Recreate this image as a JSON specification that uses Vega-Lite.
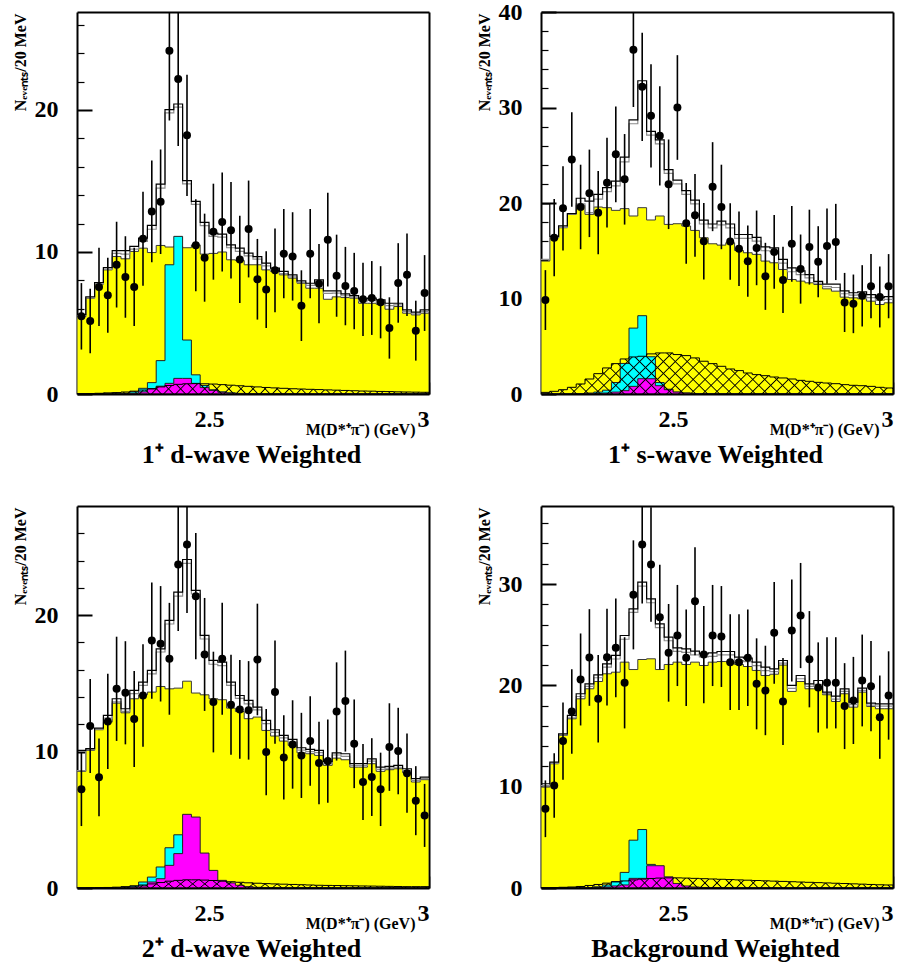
{
"$schema": "https://vega.github.io/schema/vega-lite/v6.json",
"background": "white",
"padding": {"left": 12, "top": 0, "right": 4, "bottom": 4},
"bounds": "flush",
"spacing": 112,
"columns": 2,
"config": {
  "view": {"stroke": null},
  "axis": {"labelFont": "Liberation Serif", "labelFontWeight": "bold", "labelFontSize": 24, "labelColor": "#000", "titleFont": "Liberation Serif", "titleFontWeight": "bold", "titleColor": "#000", "domainColor": "#000", "tickColor": "#000", "grid": false, "zindex": 1, "domainWidth": 2}
},
"datasets": {
"h1": [
{"m":2.20,"bkg":5.45,"cy":0,"mg":0,"ht":0.02,"tot":5.6,"gr":5.5},
{"m":2.22,"bkg":6.75,"cy":0,"mg":0,"ht":0.03,"tot":6.85,"gr":6.78},
{"m":2.24,"bkg":7.73,"cy":0,"mg":0,"ht":0.05,"tot":7.85,"gr":7.76},
{"m":2.26,"bkg":8.74,"cy":0,"mg":0,"ht":0.08,"tot":8.9,"gr":8.78},
{"m":2.28,"bkg":9.68,"cy":0.02,"mg":0,"ht":0.1,"tot":10.1,"gr":9.9},
{"m":2.30,"bkg":9.52,"cy":0.05,"mg":0.02,"ht":0.14,"tot":10.1,"gr":9.85},
{"m":2.32,"bkg":10.04,"cy":0.15,"mg":0.05,"ht":0.2,"tot":10.4,"gr":10.2},
{"m":2.34,"bkg":10.27,"cy":0.4,"mg":0.15,"ht":0.28,"tot":10.97,"gr":10.75},
{"m":2.36,"bkg":9.96,"cy":0.8,"mg":0.35,"ht":0.38,"tot":11.87,"gr":11.6},
{"m":2.38,"bkg":10.46,"cy":2.35,"mg":0.55,"ht":0.5,"tot":14.78,"gr":14.5},
{"m":2.40,"bkg":10.35,"cy":9.1,"mg":0.75,"ht":0.6,"tot":20.02,"gr":19.8},
{"m":2.42,"bkg":10.4,"cy":11.1,"mg":1.1,"ht":0.68,"tot":20.42,"gr":20.2},
{"m":2.44,"bkg":10.3,"cy":3.8,"mg":1.1,"ht":0.72,"tot":15.02,"gr":14.8},
{"m":2.46,"bkg":10.5,"cy":1.35,"mg":0.75,"ht":0.73,"tot":13.56,"gr":13.35},
{"m":2.48,"bkg":9.85,"cy":0.6,"mg":0.45,"ht":0.72,"tot":12.08,"gr":11.85},
{"m":2.50,"bkg":9.9,"cy":0.3,"mg":0.25,"ht":0.7,"tot":11.33,"gr":11.1},
{"m":2.52,"bkg":10.0,"cy":0.15,"mg":0.12,"ht":0.66,"tot":11.26,"gr":11.05},
{"m":2.54,"bkg":9.45,"cy":0.08,"mg":0.06,"ht":0.62,"tot":10.5,"gr":10.3},
{"m":2.56,"bkg":9.4,"cy":0.04,"mg":0.03,"ht":0.58,"tot":10.27,"gr":10.05},
{"m":2.58,"bkg":9.1,"cy":0.02,"mg":0.02,"ht":0.54,"tot":9.92,"gr":9.72},
{"m":2.60,"bkg":9.1,"cy":0,"mg":0,"ht":0.5,"tot":9.68,"gr":9.5},
{"m":2.62,"bkg":8.74,"cy":0,"mg":0,"ht":0.46,"tot":9.21,"gr":9.02},
{"m":2.64,"bkg":8.63,"cy":0,"mg":0,"ht":0.43,"tot":8.86,"gr":8.7},
{"m":2.66,"bkg":8.39,"cy":0,"mg":0,"ht":0.4,"tot":8.63,"gr":8.48},
{"m":2.68,"bkg":8.16,"cy":0,"mg":0,"ht":0.37,"tot":8.39,"gr":8.25},
{"m":2.70,"bkg":7.8,"cy":0,"mg":0,"ht":0.35,"tot":7.97,"gr":7.85},
{"m":2.72,"bkg":7.45,"cy":0,"mg":0,"ht":0.33,"tot":7.8,"gr":7.65},
{"m":2.74,"bkg":7.45,"cy":0,"mg":0,"ht":0.31,"tot":8.04,"gr":7.9},
{"m":2.76,"bkg":6.67,"cy":0,"mg":0,"ht":0.29,"tot":7.26,"gr":7.08},
{"m":2.78,"bkg":6.84,"cy":0,"mg":0,"ht":0.27,"tot":7.26,"gr":7.1},
{"m":2.80,"bkg":6.79,"cy":0,"mg":0,"ht":0.25,"tot":7.05,"gr":6.92},
{"m":2.82,"bkg":6.75,"cy":0,"mg":0,"ht":0.23,"tot":6.93,"gr":6.82},
{"m":2.84,"bkg":6.39,"cy":0,"mg":0,"ht":0.21,"tot":6.7,"gr":6.55},
{"m":2.86,"bkg":6.39,"cy":0,"mg":0,"ht":0.2,"tot":6.75,"gr":6.6},
{"m":2.88,"bkg":6.32,"cy":0,"mg":0,"ht":0.18,"tot":6.63,"gr":6.48},
{"m":2.90,"bkg":5.97,"cy":0,"mg":0,"ht":0.17,"tot":6.39,"gr":6.22},
{"m":2.92,"bkg":6.16,"cy":0,"mg":0,"ht":0.15,"tot":6.39,"gr":6.28},
{"m":2.94,"bkg":5.69,"cy":0,"mg":0,"ht":0.14,"tot":5.92,"gr":5.8},
{"m":2.96,"bkg":5.57,"cy":0,"mg":0,"ht":0.13,"tot":5.76,"gr":5.65},
{"m":2.98,"bkg":5.69,"cy":0,"mg":0,"ht":0.12,"tot":5.92,"gr":5.8},
{"m":3.00,"bkg":5.69,"cy":0,"mg":0,"ht":0.12,"tot":5.92,"gr":5.8}
],
"p1": [
{"m":2.21,"n":5.47,"lo":3.13,"hi":7.81},{"m":2.23,"n":5.14,"lo":2.87,"hi":7.41},{"m":2.25,"n":7.54,"lo":4.79,"hi":10.29},{"m":2.27,"n":6.95,"lo":4.31,"hi":9.59},
{"m":2.29,"n":9.11,"lo":6.09,"hi":12.13},{"m":2.31,"n":8.24,"lo":5.37,"hi":11.11},{"m":2.33,"n":7.54,"lo":4.79,"hi":10.29},{"m":2.35,"n":10.94,"lo":7.63,"hi":14.25},
{"m":2.37,"n":12.86,"lo":9.27,"hi":16.45},{"m":2.39,"n":13.54,"lo":9.86,"hi":17.22},{"m":2.41,"n":24.18,"lo":19.26,"hi":29.1},{"m":2.43,"n":22.18,"lo":17.47,"hi":26.89},
{"m":2.45,"n":18.22,"lo":13.95,"hi":22.49},{"m":2.47,"n":10.47,"lo":7.23,"hi":13.71},{"m":2.49,"n":9.6,"lo":6.5,"hi":12.7},{"m":2.51,"n":11.43,"lo":8.05,"hi":14.81},
{"m":2.53,"n":12.11,"lo":8.63,"hi":15.59},{"m":2.55,"n":11.53,"lo":8.13,"hi":14.93},{"m":2.57,"n":9.48,"lo":6.4,"hi":12.56},{"m":2.59,"n":11.62,"lo":8.21,"hi":15.03},
{"m":2.61,"n":8.08,"lo":5.24,"hi":10.92},{"m":2.63,"n":7.35,"lo":4.64,"hi":10.06},{"m":2.65,"n":8.71,"lo":5.76,"hi":11.66},{"m":2.67,"n":9.88,"lo":6.74,"hi":13.02},
{"m":2.69,"n":9.69,"lo":6.58,"hi":12.8},{"m":2.71,"n":6.22,"lo":3.73,"hi":8.71},{"m":2.73,"n":9.88,"lo":6.74,"hi":13.02},{"m":2.75,"n":7.77,"lo":4.98,"hi":10.56},
{"m":2.77,"n":10.87,"lo":7.57,"hi":14.17},{"m":2.79,"n":8.33,"lo":5.44,"hi":11.22},{"m":2.81,"n":7.6,"lo":4.84,"hi":10.36},{"m":2.83,"n":7.25,"lo":4.56,"hi":9.94},
{"m":2.85,"n":6.67,"lo":4.09,"hi":9.25},{"m":2.87,"n":6.76,"lo":4.16,"hi":9.36},{"m":2.89,"n":6.46,"lo":3.92,"hi":9.0},{"m":2.91,"n":4.65,"lo":2.49,"hi":6.81},
{"m":2.93,"n":7.82,"lo":5.02,"hi":10.62},{"m":2.95,"n":8.4,"lo":5.5,"hi":11.3},{"m":2.97,"n":4.46,"lo":2.35,"hi":6.57},{"m":2.99,"n":7.11,"lo":4.44,"hi":9.78}
],
"h2": [
{"m":2.20,"bkg":13.92,"cy":0,"mg":0,"ht":0.17,"tot":19.9,"gr":14.1},
{"m":2.22,"bkg":16.36,"cy":0,"mg":0,"ht":0.28,"tot":16.5,"gr":16.4},
{"m":2.24,"bkg":17.41,"cy":0,"mg":0,"ht":0.45,"tot":17.6,"gr":17.45},
{"m":2.26,"bkg":18.81,"cy":0.02,"mg":0,"ht":0.7,"tot":18.9,"gr":18.85},
{"m":2.28,"bkg":19.76,"cy":0.05,"mg":0,"ht":1.05,"tot":20.5,"gr":19.9},
{"m":2.30,"bkg":18.81,"cy":0.1,"mg":0.02,"ht":1.57,"tot":20.2,"gr":19.0},
{"m":2.32,"bkg":19.58,"cy":0.2,"mg":0.05,"ht":2.13,"tot":20.9,"gr":20.4},
{"m":2.34,"bkg":19.51,"cy":0.4,"mg":0.1,"ht":2.73,"tot":21.6,"gr":21.2},
{"m":2.36,"bkg":19.23,"cy":1.2,"mg":0.2,"ht":3.18,"tot":22.3,"gr":21.8},
{"m":2.38,"bkg":19.41,"cy":3.2,"mg":0.35,"ht":3.67,"tot":24.8,"gr":24.3},
{"m":2.40,"bkg":18.64,"cy":6.9,"mg":0.8,"ht":3.88,"tot":28.7,"gr":28.3},
{"m":2.42,"bkg":19.51,"cy":8.2,"mg":1.6,"ht":3.95,"tot":32.8,"gr":32.4},
{"m":2.44,"bkg":18.22,"cy":3.9,"mg":1.6,"ht":4.2,"tot":27.5,"gr":27.1},
{"m":2.46,"bkg":18.64,"cy":1.2,"mg":0.87,"ht":4.3,"tot":26.6,"gr":26.2},
{"m":2.48,"bkg":17.76,"cy":0.5,"mg":0.45,"ht":4.3,"tot":23.5,"gr":23.1},
{"m":2.50,"bkg":17.83,"cy":0.2,"mg":0.2,"ht":4.13,"tot":22.4,"gr":22.0},
{"m":2.52,"bkg":17.59,"cy":0.1,"mg":0.1,"ht":4.02,"tot":21.3,"gr":20.9},
{"m":2.54,"bkg":17.13,"cy":0.05,"mg":0.05,"ht":3.78,"tot":20.3,"gr":19.9},
{"m":2.56,"bkg":16.36,"cy":0.02,"mg":0.02,"ht":3.43,"tot":18.2,"gr":17.8},
{"m":2.58,"bkg":15.73,"cy":0,"mg":0,"ht":3.18,"tot":17.8,"gr":17.4},
{"m":2.60,"bkg":15.59,"cy":0,"mg":0,"ht":2.9,"tot":18.1,"gr":17.7},
{"m":2.62,"bkg":15.84,"cy":0,"mg":0,"ht":2.62,"tot":17.8,"gr":17.4},
{"m":2.64,"bkg":15.03,"cy":0,"mg":0,"ht":2.45,"tot":16.7,"gr":16.3},
{"m":2.66,"bkg":14.79,"cy":0,"mg":0,"ht":2.2,"tot":16.7,"gr":16.3},
{"m":2.68,"bkg":14.62,"cy":0,"mg":0,"ht":2.03,"tot":16.4,"gr":16.0},
{"m":2.70,"bkg":13.92,"cy":0,"mg":0,"ht":1.92,"tot":15.4,"gr":15.0},
{"m":2.72,"bkg":13.74,"cy":0,"mg":0,"ht":1.78,"tot":15.3,"gr":14.9},
{"m":2.74,"bkg":13.04,"cy":0,"mg":0,"ht":1.68,"tot":14.1,"gr":13.7},
{"m":2.76,"bkg":11.99,"cy":0,"mg":0,"ht":1.57,"tot":13.2,"gr":12.8},
{"m":2.78,"bkg":11.82,"cy":0,"mg":0,"ht":1.43,"tot":12.9,"gr":12.5},
{"m":2.80,"bkg":11.64,"cy":0,"mg":0,"ht":1.33,"tot":12.5,"gr":12.15},
{"m":2.82,"bkg":11.47,"cy":0,"mg":0,"ht":1.22,"tot":11.8,"gr":11.6},
{"m":2.84,"bkg":11.01,"cy":0,"mg":0,"ht":1.15,"tot":11.5,"gr":11.25},
{"m":2.86,"bkg":10.77,"cy":0,"mg":0,"ht":1.08,"tot":11.5,"gr":11.15},
{"m":2.88,"bkg":10.14,"cy":0,"mg":0,"ht":0.98,"tot":10.8,"gr":10.5},
{"m":2.90,"bkg":10.07,"cy":0,"mg":0,"ht":0.91,"tot":10.6,"gr":10.35},
{"m":2.92,"bkg":9.97,"cy":0,"mg":0,"ht":0.87,"tot":10.7,"gr":10.4},
{"m":2.94,"bkg":9.72,"cy":0,"mg":0,"ht":0.8,"tot":10.4,"gr":10.1},
{"m":2.96,"bkg":9.37,"cy":0,"mg":0,"ht":0.7,"tot":10.1,"gr":9.8},
{"m":2.98,"bkg":9.55,"cy":0,"mg":0,"ht":0.63,"tot":10.2,"gr":9.9},
{"m":3.00,"bkg":9.55,"cy":0,"mg":0,"ht":0.63,"tot":10.2,"gr":9.9}
],
"p2": [
{"m":2.21,"n":9.83,"lo":6.7,"hi":12.97},{"m":2.23,"n":16.36,"lo":12.32,"hi":20.41},{"m":2.25,"n":19.44,"lo":15.03,"hi":23.85},{"m":2.27,"n":24.55,"lo":19.6,"hi":29.51},
{"m":2.29,"n":19.58,"lo":15.16,"hi":24.01},{"m":2.31,"n":21.01,"lo":16.43,"hi":25.59},{"m":2.33,"n":18.99,"lo":14.63,"hi":23.35},{"m":2.35,"n":22.13,"lo":17.43,"hi":26.83},
{"m":2.37,"n":25.1,"lo":20.09,"hi":30.11},{"m":2.39,"n":22.48,"lo":17.74,"hi":27.22},{"m":2.41,"n":36.05,"lo":30.05,"hi":42.05},{"m":2.43,"n":32.17,"lo":26.5,"hi":37.84},
{"m":2.45,"n":29.13,"lo":23.73,"hi":34.53},{"m":2.47,"n":27.03,"lo":21.83,"hi":32.23},{"m":2.49,"n":21.96,"lo":17.27,"hi":26.65},{"m":2.51,"n":30.0,"lo":24.52,"hi":35.48},
{"m":2.53,"n":17.87,"lo":13.64,"hi":22.1},{"m":2.55,"n":18.71,"lo":14.38,"hi":23.04},{"m":2.57,"n":16.0,"lo":12.0,"hi":20.0},{"m":2.59,"n":21.71,"lo":17.05,"hi":26.37},
{"m":2.61,"n":19.58,"lo":15.16,"hi":24.01},{"m":2.63,"n":15.97,"lo":11.97,"hi":19.97},{"m":2.65,"n":15.22,"lo":11.32,"hi":19.12},{"m":2.67,"n":13.91,"lo":10.18,"hi":17.64},
{"m":2.69,"n":15.3,"lo":11.39,"hi":19.21},{"m":2.71,"n":12.32,"lo":8.81,"hi":15.83},{"m":2.73,"n":14.88,"lo":11.02,"hi":18.74},{"m":2.75,"n":11.95,"lo":8.49,"hi":15.41},
{"m":2.77,"n":15.72,"lo":11.76,"hi":19.69},{"m":2.79,"n":13.08,"lo":9.46,"hi":16.7},{"m":2.81,"n":15.38,"lo":11.46,"hi":19.3},{"m":2.83,"n":13.85,"lo":10.13,"hi":17.57},
{"m":2.85,"n":15.49,"lo":11.55,"hi":19.43},{"m":2.87,"n":15.92,"lo":11.93,"hi":19.91},{"m":2.89,"n":9.58,"lo":6.49,"hi":12.68},{"m":2.91,"n":9.44,"lo":6.37,"hi":12.51},
{"m":2.93,"n":10.28,"lo":7.07,"hi":13.49},{"m":2.95,"n":11.29,"lo":7.93,"hi":14.65},{"m":2.97,"n":10.16,"lo":6.97,"hi":13.35},{"m":2.99,"n":11.29,"lo":7.93,"hi":14.65}
],
"h3": [
{"m":2.20,"bkg":8.55,"cy":0,"mg":0,"ht":0.01,"tot":10.09,"gr":8.6},
{"m":2.22,"bkg":10.09,"cy":0,"mg":0,"ht":0.02,"tot":10.21,"gr":10.15},
{"m":2.24,"bkg":11.6,"cy":0,"mg":0,"ht":0.03,"tot":11.72,"gr":11.65},
{"m":2.26,"bkg":12.16,"cy":0,"mg":0,"ht":0.04,"tot":12.65,"gr":12.45},
{"m":2.28,"bkg":13.55,"cy":0.02,"mg":0.01,"ht":0.06,"tot":13.87,"gr":13.65},
{"m":2.30,"bkg":12.84,"cy":0.05,"mg":0.03,"ht":0.1,"tot":13.14,"gr":12.95},
{"m":2.32,"bkg":13.87,"cy":0.15,"mg":0.07,"ht":0.15,"tot":14.48,"gr":14.25},
{"m":2.34,"bkg":14.16,"cy":0.44,"mg":0.15,"ht":0.22,"tot":15.09,"gr":14.85},
{"m":2.36,"bkg":14.36,"cy":0.8,"mg":0.44,"ht":0.3,"tot":15.95,"gr":15.7},
{"m":2.38,"bkg":14.77,"cy":1.54,"mg":0.68,"ht":0.4,"tot":17.53,"gr":17.3},
{"m":2.40,"bkg":14.6,"cy":2.95,"mg":1.66,"ht":0.5,"tot":19.61,"gr":19.35},
{"m":2.42,"bkg":14.65,"cy":3.9,"mg":2.52,"ht":0.56,"tot":21.68,"gr":21.4},
{"m":2.44,"bkg":15.16,"cy":3.0,"mg":5.4,"ht":0.6,"tot":24.08,"gr":23.8},
{"m":2.46,"bkg":14.29,"cy":1.2,"mg":5.2,"ht":0.6,"tot":21.81,"gr":21.55},
{"m":2.48,"bkg":14.16,"cy":0.5,"mg":2.56,"ht":0.58,"tot":18.51,"gr":18.25},
{"m":2.50,"bkg":13.87,"cy":0.2,"mg":1.29,"ht":0.55,"tot":16.68,"gr":16.4},
{"m":2.52,"bkg":13.8,"cy":0.1,"mg":0.56,"ht":0.5,"tot":16.56,"gr":16.3},
{"m":2.54,"bkg":13.19,"cy":0.05,"mg":0.37,"ht":0.46,"tot":15.09,"gr":14.85},
{"m":2.56,"bkg":12.94,"cy":0.02,"mg":0.2,"ht":0.42,"tot":14.11,"gr":13.9},
{"m":2.58,"bkg":12.41,"cy":0,"mg":0.1,"ht":0.38,"tot":13.75,"gr":13.5},
{"m":2.60,"bkg":12.53,"cy":0,"mg":0.05,"ht":0.35,"tot":13.26,"gr":13.05},
{"m":2.62,"bkg":11.55,"cy":0,"mg":0,"ht":0.32,"tot":12.28,"gr":12.05},
{"m":2.64,"bkg":11.14,"cy":0,"mg":0,"ht":0.3,"tot":11.6,"gr":11.4},
{"m":2.66,"bkg":10.77,"cy":0,"mg":0,"ht":0.28,"tot":11.18,"gr":11.0},
{"m":2.68,"bkg":10.45,"cy":0,"mg":0,"ht":0.26,"tot":10.89,"gr":10.7},
{"m":2.70,"bkg":9.91,"cy":0,"mg":0,"ht":0.24,"tot":10.28,"gr":10.1},
{"m":2.72,"bkg":9.84,"cy":0,"mg":0,"ht":0.22,"tot":10.16,"gr":10.0},
{"m":2.74,"bkg":9.72,"cy":0,"mg":0,"ht":0.2,"tot":10.09,"gr":9.92},
{"m":2.76,"bkg":8.99,"cy":0,"mg":0,"ht":0.19,"tot":9.28,"gr":9.12},
{"m":2.78,"bkg":9.52,"cy":0,"mg":0,"ht":0.18,"tot":9.91,"gr":9.75},
{"m":2.80,"bkg":9.4,"cy":0,"mg":0,"ht":0.17,"tot":9.84,"gr":9.65},
{"m":2.82,"bkg":8.86,"cy":0,"mg":0,"ht":0.16,"tot":9.11,"gr":8.98},
{"m":2.84,"bkg":8.86,"cy":0,"mg":0,"ht":0.15,"tot":9.11,"gr":8.98},
{"m":2.86,"bkg":9.11,"cy":0,"mg":0,"ht":0.14,"tot":9.47,"gr":9.3},
{"m":2.88,"bkg":8.55,"cy":0,"mg":0,"ht":0.13,"tot":8.86,"gr":8.7},
{"m":2.90,"bkg":8.67,"cy":0,"mg":0,"ht":0.12,"tot":8.91,"gr":8.78},
{"m":2.92,"bkg":8.74,"cy":0,"mg":0,"ht":0.11,"tot":8.99,"gr":8.85},
{"m":2.94,"bkg":8.45,"cy":0,"mg":0,"ht":0.1,"tot":8.74,"gr":8.6},
{"m":2.96,"bkg":7.77,"cy":0,"mg":0,"ht":0.1,"tot":8.01,"gr":7.88},
{"m":2.98,"bkg":7.94,"cy":0,"mg":0,"ht":0.1,"tot":8.13,"gr":8.02},
{"m":3.00,"bkg":7.94,"cy":0,"mg":0,"ht":0.1,"tot":8.13,"gr":8.02}
],
"p3": [
{"m":2.21,"n":7.23,"lo":4.54,"hi":9.92},{"m":2.23,"n":11.87,"lo":8.43,"hi":15.32},{"m":2.25,"n":8.11,"lo":5.26,"hi":10.96},{"m":2.27,"n":12.21,"lo":8.72,"hi":15.7},
{"m":2.29,"n":14.6,"lo":10.78,"hi":18.42},{"m":2.31,"n":14.31,"lo":10.53,"hi":18.09},{"m":2.33,"n":12.38,"lo":8.86,"hi":15.9},{"m":2.35,"n":14.11,"lo":10.35,"hi":17.87},
{"m":2.37,"n":18.14,"lo":13.88,"hi":22.4},{"m":2.39,"n":17.9,"lo":13.67,"hi":22.13},{"m":2.41,"n":16.8,"lo":12.7,"hi":20.9},{"m":2.43,"n":23.71,"lo":18.84,"hi":28.58},
{"m":2.45,"n":25.18,"lo":20.16,"hi":30.2},{"m":2.47,"n":21.39,"lo":16.77,"hi":26.02},{"m":2.49,"n":17.12,"lo":12.98,"hi":21.26},{"m":2.51,"n":13.63,"lo":9.94,"hi":17.32},
{"m":2.53,"n":16.8,"lo":12.7,"hi":20.9},{"m":2.55,"n":13.43,"lo":9.77,"hi":17.1},{"m":2.57,"n":13.09,"lo":9.47,"hi":16.71},{"m":2.59,"n":13.02,"lo":9.41,"hi":16.63},
{"m":2.61,"n":16.75,"lo":12.66,"hi":20.84},{"m":2.63,"n":9.96,"lo":6.8,"hi":13.12},{"m":2.65,"n":14.36,"lo":10.57,"hi":18.15},{"m":2.67,"n":9.57,"lo":6.48,"hi":12.66},
{"m":2.69,"n":10.52,"lo":7.28,"hi":13.76},{"m":2.71,"n":9.72,"lo":6.6,"hi":12.84},{"m":2.73,"n":10.77,"lo":7.49,"hi":14.05},{"m":2.75,"n":9.16,"lo":6.13,"hi":12.19},
{"m":2.77,"n":9.3,"lo":6.25,"hi":12.35},{"m":2.79,"n":12.94,"lo":9.34,"hi":16.54},{"m":2.81,"n":13.7,"lo":10.0,"hi":17.4},{"m":2.83,"n":10.57,"lo":7.32,"hi":13.82},
{"m":2.85,"n":7.77,"lo":4.98,"hi":10.56},{"m":2.87,"n":8.13,"lo":5.28,"hi":10.98},{"m":2.89,"n":7.23,"lo":4.54,"hi":9.92},{"m":2.91,"n":10.33,"lo":7.12,"hi":13.54},
{"m":2.93,"n":10.04,"lo":6.87,"hi":13.21},{"m":2.95,"n":8.42,"lo":5.52,"hi":11.32},{"m":2.97,"n":6.4,"lo":3.87,"hi":8.93},{"m":2.99,"n":5.32,"lo":3.01,"hi":7.63}
],
"h4": [
{"m":2.20,"bkg":9.96,"cy":0,"mg":0,"ht":0.02,"tot":10.29,"gr":10.1},
{"m":2.22,"bkg":12.26,"cy":0,"mg":0,"ht":0.04,"tot":12.43,"gr":12.3},
{"m":2.24,"bkg":15.06,"cy":0,"mg":0,"ht":0.07,"tot":15.22,"gr":15.1},
{"m":2.26,"bkg":16.7,"cy":0,"mg":0,"ht":0.1,"tot":17.03,"gr":16.85},
{"m":2.28,"bkg":18.67,"cy":0.02,"mg":0,"ht":0.15,"tot":19.17,"gr":18.9},
{"m":2.30,"bkg":19.66,"cy":0.05,"mg":0.02,"ht":0.25,"tot":20.15,"gr":19.9},
{"m":2.32,"bkg":20.38,"cy":0.12,"mg":0.05,"ht":0.35,"tot":21.04,"gr":20.75},
{"m":2.34,"bkg":21.14,"cy":0.3,"mg":0.1,"ht":0.48,"tot":22.12,"gr":21.8},
{"m":2.36,"bkg":21.3,"cy":0.64,"mg":0.2,"ht":0.6,"tot":22.95,"gr":22.6},
{"m":2.38,"bkg":22.29,"cy":1.54,"mg":0.3,"ht":0.7,"tot":24.92,"gr":24.55},
{"m":2.40,"bkg":21.56,"cy":4.72,"mg":0.95,"ht":0.8,"tot":27.55,"gr":27.2},
{"m":2.42,"bkg":22.55,"cy":5.77,"mg":0.95,"ht":0.88,"tot":30.18,"gr":29.8},
{"m":2.44,"bkg":22.62,"cy":2.33,"mg":2.2,"ht":0.94,"tot":28.53,"gr":28.15},
{"m":2.46,"bkg":21.56,"cy":1.1,"mg":2.2,"ht":0.98,"tot":26.07,"gr":25.7},
{"m":2.48,"bkg":22.06,"cy":0.5,"mg":1.1,"ht":1.0,"tot":24.75,"gr":24.4},
{"m":2.50,"bkg":22.29,"cy":0.2,"mg":0.45,"ht":1.0,"tot":23.7,"gr":23.35},
{"m":2.52,"bkg":22.06,"cy":0.1,"mg":0.2,"ht":0.98,"tot":23.6,"gr":23.25},
{"m":2.54,"bkg":22.29,"cy":0.05,"mg":0.1,"ht":0.95,"tot":23.37,"gr":23.0},
{"m":2.56,"bkg":21.96,"cy":0.02,"mg":0.05,"ht":0.92,"tot":23.11,"gr":22.8},
{"m":2.58,"bkg":22.29,"cy":0,"mg":0.02,"ht":0.89,"tot":23.2,"gr":22.85},
{"m":2.60,"bkg":22.35,"cy":0,"mg":0,"ht":0.86,"tot":23.34,"gr":23.0},
{"m":2.62,"bkg":22.35,"cy":0,"mg":0,"ht":0.83,"tot":23.34,"gr":23.0},
{"m":2.64,"bkg":22.06,"cy":0,"mg":0,"ht":0.8,"tot":22.78,"gr":22.45},
{"m":2.66,"bkg":21.86,"cy":0,"mg":0,"ht":0.77,"tot":22.68,"gr":22.35},
{"m":2.68,"bkg":21.47,"cy":0,"mg":0,"ht":0.74,"tot":22.29,"gr":21.95},
{"m":2.70,"bkg":20.97,"cy":0,"mg":0,"ht":0.71,"tot":21.8,"gr":21.45},
{"m":2.72,"bkg":21.1,"cy":0,"mg":0,"ht":0.68,"tot":21.63,"gr":21.35},
{"m":2.74,"bkg":22.0,"cy":0,"mg":0,"ht":0.65,"tot":22.45,"gr":22.2},
{"m":2.76,"bkg":19.4,"cy":0,"mg":0,"ht":0.62,"tot":19.99,"gr":19.7},
{"m":2.78,"bkg":20.38,"cy":0,"mg":0,"ht":0.59,"tot":20.97,"gr":20.65},
{"m":2.80,"bkg":19.66,"cy":0,"mg":0,"ht":0.56,"tot":20.15,"gr":19.9},
{"m":2.82,"bkg":19.66,"cy":0,"mg":0,"ht":0.53,"tot":20.48,"gr":20.1},
{"m":2.84,"bkg":19.07,"cy":0,"mg":0,"ht":0.5,"tot":19.33,"gr":19.2},
{"m":2.86,"bkg":18.41,"cy":0,"mg":0,"ht":0.47,"tot":18.93,"gr":18.65},
{"m":2.88,"bkg":19.17,"cy":0,"mg":0,"ht":0.44,"tot":19.66,"gr":19.4},
{"m":2.90,"bkg":17.85,"cy":0,"mg":0,"ht":0.41,"tot":18.34,"gr":18.1},
{"m":2.92,"bkg":19.33,"cy":0,"mg":0,"ht":0.38,"tot":19.72,"gr":19.5},
{"m":2.94,"bkg":17.92,"cy":0,"mg":0,"ht":0.35,"tot":18.24,"gr":18.05},
{"m":2.96,"bkg":17.69,"cy":0,"mg":0,"ht":0.32,"tot":18.18,"gr":17.95},
{"m":2.98,"bkg":17.69,"cy":0,"mg":0,"ht":0.3,"tot":18.18,"gr":17.95},
{"m":3.00,"bkg":17.69,"cy":0,"mg":0,"ht":0.3,"tot":18.18,"gr":17.95}
],
"p4": [
{"m":2.21,"n":7.82,"lo":5.02,"hi":10.62},{"m":2.23,"n":10.12,"lo":6.94,"hi":13.3},{"m":2.25,"n":14.5,"lo":10.69,"hi":18.31},{"m":2.27,"n":17.42,"lo":13.25,"hi":21.59},
{"m":2.29,"n":20.58,"lo":16.04,"hi":25.12},{"m":2.31,"n":22.75,"lo":17.98,"hi":27.52},{"m":2.33,"n":18.67,"lo":14.35,"hi":22.99},{"m":2.35,"n":22.78,"lo":18.01,"hi":27.55},
{"m":2.37,"n":23.7,"lo":18.83,"hi":28.57},{"m":2.39,"n":20.25,"lo":15.75,"hi":24.75},{"m":2.41,"n":28.93,"lo":23.55,"hi":34.31},{"m":2.43,"n":33.89,"lo":28.07,"hi":39.71},
{"m":2.45,"n":31.92,"lo":26.27,"hi":37.57},{"m":2.47,"n":26.73,"lo":21.56,"hi":31.9},{"m":2.49,"n":23.21,"lo":18.39,"hi":28.03},{"m":2.51,"n":24.92,"lo":19.93,"hi":29.91},
{"m":2.53,"n":22.72,"lo":17.95,"hi":27.49},{"m":2.55,"n":28.3,"lo":22.98,"hi":33.62},{"m":2.57,"n":23.04,"lo":18.24,"hi":27.84},{"m":2.59,"n":24.92,"lo":19.93,"hi":29.91},
{"m":2.61,"n":24.82,"lo":19.84,"hi":29.8},{"m":2.63,"n":22.29,"lo":17.57,"hi":27.01},{"m":2.65,"n":22.29,"lo":17.57,"hi":27.01},{"m":2.67,"n":22.72,"lo":17.95,"hi":27.49},
{"m":2.69,"n":20.15,"lo":15.66,"hi":24.64},{"m":2.71,"n":19.49,"lo":15.08,"hi":23.91},{"m":2.73,"n":25.18,"lo":20.16,"hi":30.2},{"m":2.75,"n":18.41,"lo":14.12,"hi":22.7},
{"m":2.77,"n":25.41,"lo":20.37,"hi":30.45},{"m":2.79,"n":26.89,"lo":21.7,"hi":32.08},{"m":2.81,"n":22.58,"lo":17.83,"hi":27.33},{"m":2.83,"n":19.79,"lo":15.34,"hi":24.24},
{"m":2.85,"n":20.25,"lo":15.75,"hi":24.75},{"m":2.87,"n":20.25,"lo":15.75,"hi":24.75},{"m":2.89,"n":17.95,"lo":13.71,"hi":22.19},{"m":2.91,"n":18.51,"lo":14.21,"hi":22.81},
{"m":2.93,"n":20.48,"lo":15.95,"hi":25.01},{"m":2.95,"n":19.92,"lo":15.46,"hi":24.38},{"m":2.97,"n":16.86,"lo":12.75,"hi":20.97},{"m":2.99,"n":19.0,"lo":14.64,"hi":23.36}
]
},
"concat": [
{
 "width": 352, "height": 382,
 "resolve": {"axis": {"x": "independent", "y": "independent"}},
 "layer": [
  {"data": {"name": "h1"}, "mark": {"type": "area", "interpolate": "step-after", "fill": "#ffff00", "stroke": "#3a3a3a", "strokeWidth": 1, "clip": true},
   "encoding": {
    "x": {"field": "m", "type": "quantitative", "scale": {"domain": [2.2, 3], "nice": false, "zero": false},
      "axis": {"orient": "bottom", "values": [2.5, 3], "format": "~g", "tickSize": -12, "tickWidth": 1.5, "labelPadding": 25, "domainWidth": 2,
        "title": "M(D*\u207a\u03c0\u207b) (GeV)", "titleFontSize": 16, "titleX": 338, "titleY": 40, "titleAlign": "right", "titleBaseline": "alphabetic", "titleAnchor": "end"}},
    "y": {"field": "bkg", "type": "quantitative", "scale": {"domain": [0, 26.9], "nice": false},
      "axis": {"orient": "left", "values": [0, 10, 20], "tickSize": -15, "tickWidth": 2, "labelPadding": 34, "domainWidth": 2,
        "title": "N\u2091\u1d65\u2091\u2099\u209c\u209b/20 MeV", "titleFontSize": 16, "titleAngle": 270, "titleX": -57, "titleY": 1, "titleAlign": "right", "titleBaseline": "middle"}}
   }},
  {"data": {"name": "h1"}, "mark": {"type": "area", "interpolate": "step-after", "fill": "#00ffff", "stroke": "#222", "strokeWidth": 1, "clip": true},
   "encoding": {
    "x": {"field": "m", "type": "quantitative", "scale": {"domain": [2.2, 3], "nice": false, "zero": false},
      "axis": {"orient": "bottom", "values": [2.3, 2.4, 2.6, 2.7, 2.8, 2.9], "tickSize": -6, "tickWidth": 1.2, "labels": false, "domain": false,
        "title": "1\u207a d-wave Weighted", "titleFontSize": 26, "titleX": 174, "titleY": 68, "titleAlign": "center", "titleBaseline": "alphabetic"}},
    "y": {"field": "cy", "type": "quantitative", "scale": {"domain": [0, 26.9], "nice": false},
      "axis": {"orient": "left", "values": [2, 4, 6, 8, 12, 14, 16, 18, 22, 24, 26], "tickSize": -7, "tickWidth": 1.2, "labels": false, "domain": false, "title": null}}
   }},
  {"data": {"name": "h1"}, "mark": {"type": "area", "interpolate": "step-after", "fill": "#ff00ff", "stroke": "#222", "strokeWidth": 1, "clip": true},
   "encoding": {
    "x": {"field": "m", "type": "quantitative", "scale": {"domain": [2.2, 3], "nice": false, "zero": false},
      "axis": {"orient": "top", "ticks": false, "labels": false, "domainWidth": 2, "title": null}},
    "y": {"field": "mg", "type": "quantitative", "scale": {"domain": [0, 26.9], "nice": false},
      "axis": {"orient": "right", "ticks": false, "labels": false, "domainWidth": 2, "title": null}}
   }},
  {"data": {"name": "h1"}, "mark": {"type": "area", "interpolate": "step-after", "clip": true, "stroke": null, "fill": {"gradient": "linear", "x1": 0, "y1": 0, "x2": 1.0276, "y2": 0.0292, "stops": [
{"offset":0.0298,"color":"transparent"},{"offset":0.0333,"color":"#000"},{"offset":0.0368,"color":"transparent"},{"offset":0.0632,"color":"transparent"},{"offset":0.0667,"color":"#000"},{"offset":0.0702,"color":"transparent"},{"offset":0.0965,"color":"transparent"},{"offset":0.1,"color":"#000"},{"offset":0.1035,"color":"transparent"},{"offset":0.1298,"color":"transparent"},{"offset":0.1333,"color":"#000"},{"offset":0.1368,"color":"transparent"},{"offset":0.1632,"color":"transparent"},{"offset":0.1667,"color":"#000"},{"offset":0.1702,"color":"transparent"},{"offset":0.1965,"color":"transparent"},{"offset":0.2,"color":"#000"},{"offset":0.2035,"color":"transparent"},{"offset":0.2298,"color":"transparent"},{"offset":0.2333,"color":"#000"},{"offset":0.2368,"color":"transparent"},{"offset":0.2632,"color":"transparent"},{"offset":0.2667,"color":"#000"},{"offset":0.2702,"color":"transparent"},{"offset":0.2965,"color":"transparent"},{"offset":0.3,"color":"#000"},{"offset":0.3035,"color":"transparent"},{"offset":0.3298,"color":"transparent"},{"offset":0.3333,"color":"#000"},{"offset":0.3368,"color":"transparent"},{"offset":0.3632,"color":"transparent"},{"offset":0.3667,"color":"#000"},{"offset":0.3702,"color":"transparent"},{"offset":0.3965,"color":"transparent"},{"offset":0.4,"color":"#000"},{"offset":0.4035,"color":"transparent"},{"offset":0.4298,"color":"transparent"},{"offset":0.4333,"color":"#000"},{"offset":0.4368,"color":"transparent"},{"offset":0.4632,"color":"transparent"},{"offset":0.4667,"color":"#000"},{"offset":0.4702,"color":"transparent"},{"offset":0.4965,"color":"transparent"},{"offset":0.5,"color":"#000"},{"offset":0.5035,"color":"transparent"},{"offset":0.5298,"color":"transparent"},{"offset":0.5333,"color":"#000"},{"offset":0.5368,"color":"transparent"},{"offset":0.5632,"color":"transparent"},{"offset":0.5667,"color":"#000"},{"offset":0.5702,"color":"transparent"},{"offset":0.5965,"color":"transparent"},{"offset":0.6,"color":"#000"},{"offset":0.6035,"color":"transparent"},{"offset":0.6298,"color":"transparent"},{"offset":0.6333,"color":"#000"},{"offset":0.6368,"color":"transparent"},{"offset":0.6632,"color":"transparent"},{"offset":0.6667,"color":"#000"},{"offset":0.6702,"color":"transparent"},{"offset":0.6965,"color":"transparent"},{"offset":0.7,"color":"#000"},{"offset":0.7035,"color":"transparent"},{"offset":0.7298,"color":"transparent"},{"offset":0.7333,"color":"#000"},{"offset":0.7368,"color":"transparent"},{"offset":0.7632,"color":"transparent"},{"offset":0.7667,"color":"#000"},{"offset":0.7702,"color":"transparent"},{"offset":0.7965,"color":"transparent"},{"offset":0.8,"color":"#000"},{"offset":0.8035,"color":"transparent"},{"offset":0.8298,"color":"transparent"},{"offset":0.8333,"color":"#000"},{"offset":0.8368,"color":"transparent"},{"offset":0.8632,"color":"transparent"},{"offset":0.8667,"color":"#000"},{"offset":0.8702,"color":"transparent"},{"offset":0.8965,"color":"transparent"},{"offset":0.9,"color":"#000"},{"offset":0.9035,"color":"transparent"},{"offset":0.9298,"color":"transparent"},{"offset":0.9333,"color":"#000"},{"offset":0.9368,"color":"transparent"},{"offset":0.9632,"color":"transparent"},{"offset":0.9667,"color":"#000"},{"offset":0.9702,"color":"transparent"}]}},
   "encoding": {"x": {"field": "m", "type": "quantitative", "scale": {"domain": [2.2, 3], "nice": false, "zero": false}, "axis": null},
    "y": {"field": "ht", "type": "quantitative", "scale": {"domain": [0, 26.9], "nice": false}, "axis": null}}},
  {"data": {"name": "h1"}, "mark": {"type": "area", "interpolate": "step-after", "clip": true, "stroke": "#000", "strokeWidth": 1, "fill": {"gradient": "linear", "x1": 0, "y1": 1, "x2": 1.0276, "y2": 0.9708, "stops": [
{"offset":0.0298,"color":"transparent"},{"offset":0.0333,"color":"#000"},{"offset":0.0368,"color":"transparent"},{"offset":0.0632,"color":"transparent"},{"offset":0.0667,"color":"#000"},{"offset":0.0702,"color":"transparent"},{"offset":0.0965,"color":"transparent"},{"offset":0.1,"color":"#000"},{"offset":0.1035,"color":"transparent"},{"offset":0.1298,"color":"transparent"},{"offset":0.1333,"color":"#000"},{"offset":0.1368,"color":"transparent"},{"offset":0.1632,"color":"transparent"},{"offset":0.1667,"color":"#000"},{"offset":0.1702,"color":"transparent"},{"offset":0.1965,"color":"transparent"},{"offset":0.2,"color":"#000"},{"offset":0.2035,"color":"transparent"},{"offset":0.2298,"color":"transparent"},{"offset":0.2333,"color":"#000"},{"offset":0.2368,"color":"transparent"},{"offset":0.2632,"color":"transparent"},{"offset":0.2667,"color":"#000"},{"offset":0.2702,"color":"transparent"},{"offset":0.2965,"color":"transparent"},{"offset":0.3,"color":"#000"},{"offset":0.3035,"color":"transparent"},{"offset":0.3298,"color":"transparent"},{"offset":0.3333,"color":"#000"},{"offset":0.3368,"color":"transparent"},{"offset":0.3632,"color":"transparent"},{"offset":0.3667,"color":"#000"},{"offset":0.3702,"color":"transparent"},{"offset":0.3965,"color":"transparent"},{"offset":0.4,"color":"#000"},{"offset":0.4035,"color":"transparent"},{"offset":0.4298,"color":"transparent"},{"offset":0.4333,"color":"#000"},{"offset":0.4368,"color":"transparent"},{"offset":0.4632,"color":"transparent"},{"offset":0.4667,"color":"#000"},{"offset":0.4702,"color":"transparent"},{"offset":0.4965,"color":"transparent"},{"offset":0.5,"color":"#000"},{"offset":0.5035,"color":"transparent"},{"offset":0.5298,"color":"transparent"},{"offset":0.5333,"color":"#000"},{"offset":0.5368,"color":"transparent"},{"offset":0.5632,"color":"transparent"},{"offset":0.5667,"color":"#000"},{"offset":0.5702,"color":"transparent"},{"offset":0.5965,"color":"transparent"},{"offset":0.6,"color":"#000"},{"offset":0.6035,"color":"transparent"},{"offset":0.6298,"color":"transparent"},{"offset":0.6333,"color":"#000"},{"offset":0.6368,"color":"transparent"},{"offset":0.6632,"color":"transparent"},{"offset":0.6667,"color":"#000"},{"offset":0.6702,"color":"transparent"},{"offset":0.6965,"color":"transparent"},{"offset":0.7,"color":"#000"},{"offset":0.7035,"color":"transparent"},{"offset":0.7298,"color":"transparent"},{"offset":0.7333,"color":"#000"},{"offset":0.7368,"color":"transparent"},{"offset":0.7632,"color":"transparent"},{"offset":0.7667,"color":"#000"},{"offset":0.7702,"color":"transparent"},{"offset":0.7965,"color":"transparent"},{"offset":0.8,"color":"#000"},{"offset":0.8035,"color":"transparent"},{"offset":0.8298,"color":"transparent"},{"offset":0.8333,"color":"#000"},{"offset":0.8368,"color":"transparent"},{"offset":0.8632,"color":"transparent"},{"offset":0.8667,"color":"#000"},{"offset":0.8702,"color":"transparent"},{"offset":0.8965,"color":"transparent"},{"offset":0.9,"color":"#000"},{"offset":0.9035,"color":"transparent"},{"offset":0.9298,"color":"transparent"},{"offset":0.9333,"color":"#000"},{"offset":0.9368,"color":"transparent"},{"offset":0.9632,"color":"transparent"},{"offset":0.9667,"color":"#000"},{"offset":0.9702,"color":"transparent"}]}},
   "encoding": {"x": {"field": "m", "type": "quantitative", "scale": {"domain": [2.2, 3], "nice": false, "zero": false}, "axis": null},
    "y": {"field": "ht", "type": "quantitative", "scale": {"domain": [0, 26.9], "nice": false}, "axis": null}}},
  {"data": {"name": "h1"}, "mark": {"type": "line", "interpolate": "step-after", "stroke": "#8c8c8c", "strokeWidth": 1.2, "clip": true},
   "encoding": {"x": {"field": "m", "type": "quantitative", "scale": {"domain": [2.2, 3], "nice": false, "zero": false}, "axis": null},
    "y": {"field": "gr", "type": "quantitative", "scale": {"domain": [0, 26.9], "nice": false}, "axis": null}}},
  {"data": {"name": "h1"}, "mark": {"type": "line", "interpolate": "step-after", "stroke": "#000", "strokeWidth": 1.2, "clip": true},
   "encoding": {"x": {"field": "m", "type": "quantitative", "scale": {"domain": [2.2, 3], "nice": false, "zero": false}, "axis": null},
    "y": {"field": "tot", "type": "quantitative", "scale": {"domain": [0, 26.9], "nice": false}, "axis": null}}},
  {"data": {"name": "p1"}, "mark": {"type": "rule", "stroke": "#000", "strokeWidth": 1.6, "clip": true},
   "encoding": {"x": {"field": "m", "type": "quantitative", "scale": {"domain": [2.2, 3], "nice": false, "zero": false}, "axis": null},
    "y": {"field": "lo", "type": "quantitative", "scale": {"domain": [0, 26.9], "nice": false}, "axis": null}, "y2": {"field": "hi"}}},
  {"data": {"name": "p1"}, "mark": {"type": "point", "shape": "circle", "filled": true, "fill": "#000", "size": 64, "opacity": 1, "clip": true},
   "encoding": {"x": {"field": "m", "type": "quantitative", "scale": {"domain": [2.2, 3], "nice": false, "zero": false}, "axis": null},
    "y": {"field": "n", "type": "quantitative", "scale": {"domain": [0, 26.9], "nice": false}, "axis": null}}}
 ]
},
{
 "width": 352, "height": 382,
 "resolve": {"axis": {"x": "independent", "y": "independent"}},
 "layer": [
  {"data": {"name": "h2"}, "mark": {"type": "area", "interpolate": "step-after", "fill": "#ffff00", "stroke": "#3a3a3a", "strokeWidth": 1, "clip": true},
   "encoding": {
    "x": {"field": "m", "type": "quantitative", "scale": {"domain": [2.2, 3], "nice": false, "zero": false},
      "axis": {"orient": "bottom", "values": [2.5, 3], "format": "~g", "tickSize": -12, "tickWidth": 1.5, "labelPadding": 25, "domainWidth": 2,
        "title": "M(D*\u207a\u03c0\u207b) (GeV)", "titleFontSize": 16, "titleX": 338, "titleY": 40, "titleAlign": "right", "titleBaseline": "alphabetic", "titleAnchor": "end"}},
    "y": {"field": "bkg", "type": "quantitative", "scale": {"domain": [0, 40], "nice": false},
      "axis": {"orient": "left", "values": [0, 10, 20, 30, 40], "tickSize": -15, "tickWidth": 2, "labelPadding": 34, "domainWidth": 2,
        "title": "N\u2091\u1d65\u2091\u2099\u209c\u209b/20 MeV", "titleFontSize": 16, "titleAngle": 270, "titleX": -57, "titleY": 1, "titleAlign": "right", "titleBaseline": "middle"}}
   }},
  {"data": {"name": "h2"}, "mark": {"type": "area", "interpolate": "step-after", "fill": "#00ffff", "stroke": "#222", "strokeWidth": 1, "clip": true},
   "encoding": {
    "x": {"field": "m", "type": "quantitative", "scale": {"domain": [2.2, 3], "nice": false, "zero": false},
      "axis": {"orient": "bottom", "values": [2.3, 2.4, 2.6, 2.7, 2.8, 2.9], "tickSize": -6, "tickWidth": 1.2, "labels": false, "domain": false,
        "title": "1\u207a s-wave Weighted", "titleFontSize": 26, "titleX": 174, "titleY": 68, "titleAlign": "center", "titleBaseline": "alphabetic"}},
    "y": {"field": "cy", "type": "quantitative", "scale": {"domain": [0, 40], "nice": false},
      "axis": {"orient": "left", "values": [2, 4, 6, 8, 12, 14, 16, 18, 22, 24, 26, 28, 32, 34, 36, 38], "tickSize": -7, "tickWidth": 1.2, "labels": false, "domain": false, "title": null}}
   }},
  {"data": {"name": "h2"}, "mark": {"type": "area", "interpolate": "step-after", "fill": "#ff00ff", "stroke": "#222", "strokeWidth": 1, "clip": true},
   "encoding": {
    "x": {"field": "m", "type": "quantitative", "scale": {"domain": [2.2, 3], "nice": false, "zero": false},
      "axis": {"orient": "top", "ticks": false, "labels": false, "domainWidth": 2, "title": null}},
    "y": {"field": "mg", "type": "quantitative", "scale": {"domain": [0, 40], "nice": false},
      "axis": {"orient": "right", "ticks": false, "labels": false, "domainWidth": 2, "title": null}}
   }},
  {"data": {"name": "h2"}, "mark": {"type": "area", "interpolate": "step-after", "clip": true, "stroke": null, "fill": {"gradient": "linear", "x1": 0, "y1": 0, "x2": 1.1018, "y2": 0.1286, "stops": [
{"offset":0.0270,"color":"transparent"},{"offset":0.0303,"color":"#000"},{"offset":0.0336,"color":"transparent"},{"offset":0.0573,"color":"transparent"},{"offset":0.0606,"color":"#000"},{"offset":0.0639,"color":"transparent"},{"offset":0.0876,"color":"transparent"},{"offset":0.0909,"color":"#000"},{"offset":0.0942,"color":"transparent"},{"offset":0.1179,"color":"transparent"},{"offset":0.1212,"color":"#000"},{"offset":0.1245,"color":"transparent"},{"offset":0.1482,"color":"transparent"},{"offset":0.1515,"color":"#000"},{"offset":0.1548,"color":"transparent"},{"offset":0.1785,"color":"transparent"},{"offset":0.1818,"color":"#000"},{"offset":0.1851,"color":"transparent"},{"offset":0.2088,"color":"transparent"},{"offset":0.2121,"color":"#000"},{"offset":0.2154,"color":"transparent"},{"offset":0.2391,"color":"transparent"},{"offset":0.2424,"color":"#000"},{"offset":0.2457,"color":"transparent"},{"offset":0.2694,"color":"transparent"},{"offset":0.2727,"color":"#000"},{"offset":0.2760,"color":"transparent"},{"offset":0.2997,"color":"transparent"},{"offset":0.3030,"color":"#000"},{"offset":0.3063,"color":"transparent"},{"offset":0.3300,"color":"transparent"},{"offset":0.3333,"color":"#000"},{"offset":0.3366,"color":"transparent"},{"offset":0.3603,"color":"transparent"},{"offset":0.3636,"color":"#000"},{"offset":0.3669,"color":"transparent"},{"offset":0.3906,"color":"transparent"},{"offset":0.3939,"color":"#000"},{"offset":0.3972,"color":"transparent"},{"offset":0.4209,"color":"transparent"},{"offset":0.4242,"color":"#000"},{"offset":0.4275,"color":"transparent"},{"offset":0.4512,"color":"transparent"},{"offset":0.4545,"color":"#000"},{"offset":0.4578,"color":"transparent"},{"offset":0.4815,"color":"transparent"},{"offset":0.4848,"color":"#000"},{"offset":0.4881,"color":"transparent"},{"offset":0.5119,"color":"transparent"},{"offset":0.5152,"color":"#000"},{"offset":0.5185,"color":"transparent"},{"offset":0.5422,"color":"transparent"},{"offset":0.5455,"color":"#000"},{"offset":0.5488,"color":"transparent"},{"offset":0.5725,"color":"transparent"},{"offset":0.5758,"color":"#000"},{"offset":0.5791,"color":"transparent"},{"offset":0.6028,"color":"transparent"},{"offset":0.6061,"color":"#000"},{"offset":0.6094,"color":"transparent"},{"offset":0.6331,"color":"transparent"},{"offset":0.6364,"color":"#000"},{"offset":0.6397,"color":"transparent"},{"offset":0.6634,"color":"transparent"},{"offset":0.6667,"color":"#000"},{"offset":0.6700,"color":"transparent"},{"offset":0.6937,"color":"transparent"},{"offset":0.6970,"color":"#000"},{"offset":0.7003,"color":"transparent"},{"offset":0.7240,"color":"transparent"},{"offset":0.7273,"color":"#000"},{"offset":0.7306,"color":"transparent"},{"offset":0.7543,"color":"transparent"},{"offset":0.7576,"color":"#000"},{"offset":0.7609,"color":"transparent"},{"offset":0.7846,"color":"transparent"},{"offset":0.7879,"color":"#000"},{"offset":0.7912,"color":"transparent"},{"offset":0.8149,"color":"transparent"},{"offset":0.8182,"color":"#000"},{"offset":0.8215,"color":"transparent"},{"offset":0.8452,"color":"transparent"},{"offset":0.8485,"color":"#000"},{"offset":0.8518,"color":"transparent"},{"offset":0.8755,"color":"transparent"},{"offset":0.8788,"color":"#000"},{"offset":0.8821,"color":"transparent"},{"offset":0.9058,"color":"transparent"},{"offset":0.9091,"color":"#000"},{"offset":0.9124,"color":"transparent"},{"offset":0.9361,"color":"transparent"},{"offset":0.9394,"color":"#000"},{"offset":0.9427,"color":"transparent"},{"offset":0.9664,"color":"transparent"},{"offset":0.9697,"color":"#000"},{"offset":0.9730,"color":"transparent"}]}},
   "encoding": {"x": {"field": "m", "type": "quantitative", "scale": {"domain": [2.2, 3], "nice": false, "zero": false}, "axis": null},
    "y": {"field": "ht", "type": "quantitative", "scale": {"domain": [0, 40], "nice": false}, "axis": null}}},
  {"data": {"name": "h2"}, "mark": {"type": "area", "interpolate": "step-after", "clip": true, "stroke": "#000", "strokeWidth": 1, "fill": {"gradient": "linear", "x1": 0, "y1": 1, "x2": 1.1018, "y2": 0.8714, "stops": [
{"offset":0.0270,"color":"transparent"},{"offset":0.0303,"color":"#000"},{"offset":0.0336,"color":"transparent"},{"offset":0.0573,"color":"transparent"},{"offset":0.0606,"color":"#000"},{"offset":0.0639,"color":"transparent"},{"offset":0.0876,"color":"transparent"},{"offset":0.0909,"color":"#000"},{"offset":0.0942,"color":"transparent"},{"offset":0.1179,"color":"transparent"},{"offset":0.1212,"color":"#000"},{"offset":0.1245,"color":"transparent"},{"offset":0.1482,"color":"transparent"},{"offset":0.1515,"color":"#000"},{"offset":0.1548,"color":"transparent"},{"offset":0.1785,"color":"transparent"},{"offset":0.1818,"color":"#000"},{"offset":0.1851,"color":"transparent"},{"offset":0.2088,"color":"transparent"},{"offset":0.2121,"color":"#000"},{"offset":0.2154,"color":"transparent"},{"offset":0.2391,"color":"transparent"},{"offset":0.2424,"color":"#000"},{"offset":0.2457,"color":"transparent"},{"offset":0.2694,"color":"transparent"},{"offset":0.2727,"color":"#000"},{"offset":0.2760,"color":"transparent"},{"offset":0.2997,"color":"transparent"},{"offset":0.3030,"color":"#000"},{"offset":0.3063,"color":"transparent"},{"offset":0.3300,"color":"transparent"},{"offset":0.3333,"color":"#000"},{"offset":0.3366,"color":"transparent"},{"offset":0.3603,"color":"transparent"},{"offset":0.3636,"color":"#000"},{"offset":0.3669,"color":"transparent"},{"offset":0.3906,"color":"transparent"},{"offset":0.3939,"color":"#000"},{"offset":0.3972,"color":"transparent"},{"offset":0.4209,"color":"transparent"},{"offset":0.4242,"color":"#000"},{"offset":0.4275,"color":"transparent"},{"offset":0.4512,"color":"transparent"},{"offset":0.4545,"color":"#000"},{"offset":0.4578,"color":"transparent"},{"offset":0.4815,"color":"transparent"},{"offset":0.4848,"color":"#000"},{"offset":0.4881,"color":"transparent"},{"offset":0.5119,"color":"transparent"},{"offset":0.5152,"color":"#000"},{"offset":0.5185,"color":"transparent"},{"offset":0.5422,"color":"transparent"},{"offset":0.5455,"color":"#000"},{"offset":0.5488,"color":"transparent"},{"offset":0.5725,"color":"transparent"},{"offset":0.5758,"color":"#000"},{"offset":0.5791,"color":"transparent"},{"offset":0.6028,"color":"transparent"},{"offset":0.6061,"color":"#000"},{"offset":0.6094,"color":"transparent"},{"offset":0.6331,"color":"transparent"},{"offset":0.6364,"color":"#000"},{"offset":0.6397,"color":"transparent"},{"offset":0.6634,"color":"transparent"},{"offset":0.6667,"color":"#000"},{"offset":0.6700,"color":"transparent"},{"offset":0.6937,"color":"transparent"},{"offset":0.6970,"color":"#000"},{"offset":0.7003,"color":"transparent"},{"offset":0.7240,"color":"transparent"},{"offset":0.7273,"color":"#000"},{"offset":0.7306,"color":"transparent"},{"offset":0.7543,"color":"transparent"},{"offset":0.7576,"color":"#000"},{"offset":0.7609,"color":"transparent"},{"offset":0.7846,"color":"transparent"},{"offset":0.7879,"color":"#000"},{"offset":0.7912,"color":"transparent"},{"offset":0.8149,"color":"transparent"},{"offset":0.8182,"color":"#000"},{"offset":0.8215,"color":"transparent"},{"offset":0.8452,"color":"transparent"},{"offset":0.8485,"color":"#000"},{"offset":0.8518,"color":"transparent"},{"offset":0.8755,"color":"transparent"},{"offset":0.8788,"color":"#000"},{"offset":0.8821,"color":"transparent"},{"offset":0.9058,"color":"transparent"},{"offset":0.9091,"color":"#000"},{"offset":0.9124,"color":"transparent"},{"offset":0.9361,"color":"transparent"},{"offset":0.9394,"color":"#000"},{"offset":0.9427,"color":"transparent"},{"offset":0.9664,"color":"transparent"},{"offset":0.9697,"color":"#000"},{"offset":0.9730,"color":"transparent"}]}},
   "encoding": {"x": {"field": "m", "type": "quantitative", "scale": {"domain": [2.2, 3], "nice": false, "zero": false}, "axis": null},
    "y": {"field": "ht", "type": "quantitative", "scale": {"domain": [0, 40], "nice": false}, "axis": null}}},
  {"data": {"name": "h2"}, "mark": {"type": "line", "interpolate": "step-after", "stroke": "#8c8c8c", "strokeWidth": 1.2, "clip": true},
   "encoding": {"x": {"field": "m", "type": "quantitative", "scale": {"domain": [2.2, 3], "nice": false, "zero": false}, "axis": null},
    "y": {"field": "gr", "type": "quantitative", "scale": {"domain": [0, 40], "nice": false}, "axis": null}}},
  {"data": {"name": "h2"}, "mark": {"type": "line", "interpolate": "step-after", "stroke": "#000", "strokeWidth": 1.2, "clip": true},
   "encoding": {"x": {"field": "m", "type": "quantitative", "scale": {"domain": [2.2, 3], "nice": false, "zero": false}, "axis": null},
    "y": {"field": "tot", "type": "quantitative", "scale": {"domain": [0, 40], "nice": false}, "axis": null}}},
  {"data": {"name": "p2"}, "mark": {"type": "rule", "stroke": "#000", "strokeWidth": 1.6, "clip": true},
   "encoding": {"x": {"field": "m", "type": "quantitative", "scale": {"domain": [2.2, 3], "nice": false, "zero": false}, "axis": null},
    "y": {"field": "lo", "type": "quantitative", "scale": {"domain": [0, 40], "nice": false}, "axis": null}, "y2": {"field": "hi"}}},
  {"data": {"name": "p2"}, "mark": {"type": "point", "shape": "circle", "filled": true, "fill": "#000", "size": 64, "opacity": 1, "clip": true},
   "encoding": {"x": {"field": "m", "type": "quantitative", "scale": {"domain": [2.2, 3], "nice": false, "zero": false}, "axis": null},
    "y": {"field": "n", "type": "quantitative", "scale": {"domain": [0, 40], "nice": false}, "axis": null}}}
 ]
},
{
 "width": 352, "height": 382,
 "resolve": {"axis": {"x": "independent", "y": "independent"}},
 "layer": [
  {"data": {"name": "h3"}, "mark": {"type": "area", "interpolate": "step-after", "fill": "#ffff00", "stroke": "#3a3a3a", "strokeWidth": 1, "clip": true},
   "encoding": {
    "x": {"field": "m", "type": "quantitative", "scale": {"domain": [2.2, 3], "nice": false, "zero": false},
      "axis": {"orient": "bottom", "values": [2.5, 3], "format": "~g", "tickSize": -12, "tickWidth": 1.5, "labelPadding": 25, "domainWidth": 2,
        "title": "M(D*\u207a\u03c0\u207b) (GeV)", "titleFontSize": 16, "titleX": 338, "titleY": 40, "titleAlign": "right", "titleBaseline": "alphabetic", "titleAnchor": "end"}},
    "y": {"field": "bkg", "type": "quantitative", "scale": {"domain": [0, 28], "nice": false},
      "axis": {"orient": "left", "values": [0, 10, 20], "tickSize": -15, "tickWidth": 2, "labelPadding": 34, "domainWidth": 2,
        "title": "N\u2091\u1d65\u2091\u2099\u209c\u209b/20 MeV", "titleFontSize": 16, "titleAngle": 270, "titleX": -57, "titleY": 1, "titleAlign": "right", "titleBaseline": "middle"}}
   }},
  {"data": {"name": "h3"}, "mark": {"type": "area", "interpolate": "step-after", "fill": "#00ffff", "stroke": "#222", "strokeWidth": 1, "clip": true},
   "encoding": {
    "x": {"field": "m", "type": "quantitative", "scale": {"domain": [2.2, 3], "nice": false, "zero": false},
      "axis": {"orient": "bottom", "values": [2.3, 2.4, 2.6, 2.7, 2.8, 2.9], "tickSize": -6, "tickWidth": 1.2, "labels": false, "domain": false,
        "title": "2\u207a d-wave Weighted", "titleFontSize": 26, "titleX": 174, "titleY": 68, "titleAlign": "center", "titleBaseline": "alphabetic"}},
    "y": {"field": "cy", "type": "quantitative", "scale": {"domain": [0, 28], "nice": false},
      "axis": {"orient": "left", "values": [2, 4, 6, 8, 12, 14, 16, 18, 22, 24, 26], "tickSize": -7, "tickWidth": 1.2, "labels": false, "domain": false, "title": null}}
   }},
  {"data": {"name": "h3"}, "mark": {"type": "area", "interpolate": "step-after", "fill": "#ff00ff", "stroke": "#222", "strokeWidth": 1, "clip": true},
   "encoding": {
    "x": {"field": "m", "type": "quantitative", "scale": {"domain": [2.2, 3], "nice": false, "zero": false},
      "axis": {"orient": "top", "ticks": false, "labels": false, "domainWidth": 2, "title": null}},
    "y": {"field": "mg", "type": "quantitative", "scale": {"domain": [0, 28], "nice": false},
      "axis": {"orient": "right", "ticks": false, "labels": false, "domainWidth": 2, "title": null}}
   }},
  {"data": {"name": "h3"}, "mark": {"type": "area", "interpolate": "step-after", "clip": true, "stroke": null, "fill": {"gradient": "linear", "x1": 0, "y1": 0, "x2": 1.0276, "y2": 0.0292, "stops": [
{"offset":0.0298,"color":"transparent"},{"offset":0.0333,"color":"#000"},{"offset":0.0368,"color":"transparent"},{"offset":0.0632,"color":"transparent"},{"offset":0.0667,"color":"#000"},{"offset":0.0702,"color":"transparent"},{"offset":0.0965,"color":"transparent"},{"offset":0.1,"color":"#000"},{"offset":0.1035,"color":"transparent"},{"offset":0.1298,"color":"transparent"},{"offset":0.1333,"color":"#000"},{"offset":0.1368,"color":"transparent"},{"offset":0.1632,"color":"transparent"},{"offset":0.1667,"color":"#000"},{"offset":0.1702,"color":"transparent"},{"offset":0.1965,"color":"transparent"},{"offset":0.2,"color":"#000"},{"offset":0.2035,"color":"transparent"},{"offset":0.2298,"color":"transparent"},{"offset":0.2333,"color":"#000"},{"offset":0.2368,"color":"transparent"},{"offset":0.2632,"color":"transparent"},{"offset":0.2667,"color":"#000"},{"offset":0.2702,"color":"transparent"},{"offset":0.2965,"color":"transparent"},{"offset":0.3,"color":"#000"},{"offset":0.3035,"color":"transparent"},{"offset":0.3298,"color":"transparent"},{"offset":0.3333,"color":"#000"},{"offset":0.3368,"color":"transparent"},{"offset":0.3632,"color":"transparent"},{"offset":0.3667,"color":"#000"},{"offset":0.3702,"color":"transparent"},{"offset":0.3965,"color":"transparent"},{"offset":0.4,"color":"#000"},{"offset":0.4035,"color":"transparent"},{"offset":0.4298,"color":"transparent"},{"offset":0.4333,"color":"#000"},{"offset":0.4368,"color":"transparent"},{"offset":0.4632,"color":"transparent"},{"offset":0.4667,"color":"#000"},{"offset":0.4702,"color":"transparent"},{"offset":0.4965,"color":"transparent"},{"offset":0.5,"color":"#000"},{"offset":0.5035,"color":"transparent"},{"offset":0.5298,"color":"transparent"},{"offset":0.5333,"color":"#000"},{"offset":0.5368,"color":"transparent"},{"offset":0.5632,"color":"transparent"},{"offset":0.5667,"color":"#000"},{"offset":0.5702,"color":"transparent"},{"offset":0.5965,"color":"transparent"},{"offset":0.6,"color":"#000"},{"offset":0.6035,"color":"transparent"},{"offset":0.6298,"color":"transparent"},{"offset":0.6333,"color":"#000"},{"offset":0.6368,"color":"transparent"},{"offset":0.6632,"color":"transparent"},{"offset":0.6667,"color":"#000"},{"offset":0.6702,"color":"transparent"},{"offset":0.6965,"color":"transparent"},{"offset":0.7,"color":"#000"},{"offset":0.7035,"color":"transparent"},{"offset":0.7298,"color":"transparent"},{"offset":0.7333,"color":"#000"},{"offset":0.7368,"color":"transparent"},{"offset":0.7632,"color":"transparent"},{"offset":0.7667,"color":"#000"},{"offset":0.7702,"color":"transparent"},{"offset":0.7965,"color":"transparent"},{"offset":0.8,"color":"#000"},{"offset":0.8035,"color":"transparent"},{"offset":0.8298,"color":"transparent"},{"offset":0.8333,"color":"#000"},{"offset":0.8368,"color":"transparent"},{"offset":0.8632,"color":"transparent"},{"offset":0.8667,"color":"#000"},{"offset":0.8702,"color":"transparent"},{"offset":0.8965,"color":"transparent"},{"offset":0.9,"color":"#000"},{"offset":0.9035,"color":"transparent"},{"offset":0.9298,"color":"transparent"},{"offset":0.9333,"color":"#000"},{"offset":0.9368,"color":"transparent"},{"offset":0.9632,"color":"transparent"},{"offset":0.9667,"color":"#000"},{"offset":0.9702,"color":"transparent"}]}},
   "encoding": {"x": {"field": "m", "type": "quantitative", "scale": {"domain": [2.2, 3], "nice": false, "zero": false}, "axis": null},
    "y": {"field": "ht", "type": "quantitative", "scale": {"domain": [0, 28], "nice": false}, "axis": null}}},
  {"data": {"name": "h3"}, "mark": {"type": "area", "interpolate": "step-after", "clip": true, "stroke": "#000", "strokeWidth": 1, "fill": {"gradient": "linear", "x1": 0, "y1": 1, "x2": 1.0276, "y2": 0.9708, "stops": [
{"offset":0.0298,"color":"transparent"},{"offset":0.0333,"color":"#000"},{"offset":0.0368,"color":"transparent"},{"offset":0.0632,"color":"transparent"},{"offset":0.0667,"color":"#000"},{"offset":0.0702,"color":"transparent"},{"offset":0.0965,"color":"transparent"},{"offset":0.1,"color":"#000"},{"offset":0.1035,"color":"transparent"},{"offset":0.1298,"color":"transparent"},{"offset":0.1333,"color":"#000"},{"offset":0.1368,"color":"transparent"},{"offset":0.1632,"color":"transparent"},{"offset":0.1667,"color":"#000"},{"offset":0.1702,"color":"transparent"},{"offset":0.1965,"color":"transparent"},{"offset":0.2,"color":"#000"},{"offset":0.2035,"color":"transparent"},{"offset":0.2298,"color":"transparent"},{"offset":0.2333,"color":"#000"},{"offset":0.2368,"color":"transparent"},{"offset":0.2632,"color":"transparent"},{"offset":0.2667,"color":"#000"},{"offset":0.2702,"color":"transparent"},{"offset":0.2965,"color":"transparent"},{"offset":0.3,"color":"#000"},{"offset":0.3035,"color":"transparent"},{"offset":0.3298,"color":"transparent"},{"offset":0.3333,"color":"#000"},{"offset":0.3368,"color":"transparent"},{"offset":0.3632,"color":"transparent"},{"offset":0.3667,"color":"#000"},{"offset":0.3702,"color":"transparent"},{"offset":0.3965,"color":"transparent"},{"offset":0.4,"color":"#000"},{"offset":0.4035,"color":"transparent"},{"offset":0.4298,"color":"transparent"},{"offset":0.4333,"color":"#000"},{"offset":0.4368,"color":"transparent"},{"offset":0.4632,"color":"transparent"},{"offset":0.4667,"color":"#000"},{"offset":0.4702,"color":"transparent"},{"offset":0.4965,"color":"transparent"},{"offset":0.5,"color":"#000"},{"offset":0.5035,"color":"transparent"},{"offset":0.5298,"color":"transparent"},{"offset":0.5333,"color":"#000"},{"offset":0.5368,"color":"transparent"},{"offset":0.5632,"color":"transparent"},{"offset":0.5667,"color":"#000"},{"offset":0.5702,"color":"transparent"},{"offset":0.5965,"color":"transparent"},{"offset":0.6,"color":"#000"},{"offset":0.6035,"color":"transparent"},{"offset":0.6298,"color":"transparent"},{"offset":0.6333,"color":"#000"},{"offset":0.6368,"color":"transparent"},{"offset":0.6632,"color":"transparent"},{"offset":0.6667,"color":"#000"},{"offset":0.6702,"color":"transparent"},{"offset":0.6965,"color":"transparent"},{"offset":0.7,"color":"#000"},{"offset":0.7035,"color":"transparent"},{"offset":0.7298,"color":"transparent"},{"offset":0.7333,"color":"#000"},{"offset":0.7368,"color":"transparent"},{"offset":0.7632,"color":"transparent"},{"offset":0.7667,"color":"#000"},{"offset":0.7702,"color":"transparent"},{"offset":0.7965,"color":"transparent"},{"offset":0.8,"color":"#000"},{"offset":0.8035,"color":"transparent"},{"offset":0.8298,"color":"transparent"},{"offset":0.8333,"color":"#000"},{"offset":0.8368,"color":"transparent"},{"offset":0.8632,"color":"transparent"},{"offset":0.8667,"color":"#000"},{"offset":0.8702,"color":"transparent"},{"offset":0.8965,"color":"transparent"},{"offset":0.9,"color":"#000"},{"offset":0.9035,"color":"transparent"},{"offset":0.9298,"color":"transparent"},{"offset":0.9333,"color":"#000"},{"offset":0.9368,"color":"transparent"},{"offset":0.9632,"color":"transparent"},{"offset":0.9667,"color":"#000"},{"offset":0.9702,"color":"transparent"}]}},
   "encoding": {"x": {"field": "m", "type": "quantitative", "scale": {"domain": [2.2, 3], "nice": false, "zero": false}, "axis": null},
    "y": {"field": "ht", "type": "quantitative", "scale": {"domain": [0, 28], "nice": false}, "axis": null}}},
  {"data": {"name": "h3"}, "mark": {"type": "line", "interpolate": "step-after", "stroke": "#8c8c8c", "strokeWidth": 1.2, "clip": true},
   "encoding": {"x": {"field": "m", "type": "quantitative", "scale": {"domain": [2.2, 3], "nice": false, "zero": false}, "axis": null},
    "y": {"field": "gr", "type": "quantitative", "scale": {"domain": [0, 28], "nice": false}, "axis": null}}},
  {"data": {"name": "h3"}, "mark": {"type": "line", "interpolate": "step-after", "stroke": "#000", "strokeWidth": 1.2, "clip": true},
   "encoding": {"x": {"field": "m", "type": "quantitative", "scale": {"domain": [2.2, 3], "nice": false, "zero": false}, "axis": null},
    "y": {"field": "tot", "type": "quantitative", "scale": {"domain": [0, 28], "nice": false}, "axis": null}}},
  {"data": {"name": "p3"}, "mark": {"type": "rule", "stroke": "#000", "strokeWidth": 1.6, "clip": true},
   "encoding": {"x": {"field": "m", "type": "quantitative", "scale": {"domain": [2.2, 3], "nice": false, "zero": false}, "axis": null},
    "y": {"field": "lo", "type": "quantitative", "scale": {"domain": [0, 28], "nice": false}, "axis": null}, "y2": {"field": "hi"}}},
  {"data": {"name": "p3"}, "mark": {"type": "point", "shape": "circle", "filled": true, "fill": "#000", "size": 64, "opacity": 1, "clip": true},
   "encoding": {"x": {"field": "m", "type": "quantitative", "scale": {"domain": [2.2, 3], "nice": false, "zero": false}, "axis": null},
    "y": {"field": "n", "type": "quantitative", "scale": {"domain": [0, 28], "nice": false}, "axis": null}}}
 ]
},
{
 "width": 352, "height": 382,
 "resolve": {"axis": {"x": "independent", "y": "independent"}},
 "layer": [
  {"data": {"name": "h4"}, "mark": {"type": "area", "interpolate": "step-after", "fill": "#ffff00", "stroke": "#3a3a3a", "strokeWidth": 1, "clip": true},
   "encoding": {
    "x": {"field": "m", "type": "quantitative", "scale": {"domain": [2.2, 3], "nice": false, "zero": false},
      "axis": {"orient": "bottom", "values": [2.5, 3], "format": "~g", "tickSize": -12, "tickWidth": 1.5, "labelPadding": 25, "domainWidth": 2,
        "title": "M(D*\u207a\u03c0\u207b) (GeV)", "titleFontSize": 16, "titleX": 338, "titleY": 40, "titleAlign": "right", "titleBaseline": "alphabetic", "titleAnchor": "end"}},
    "y": {"field": "bkg", "type": "quantitative", "scale": {"domain": [0, 37.7], "nice": false},
      "axis": {"orient": "left", "values": [0, 10, 20, 30], "tickSize": -15, "tickWidth": 2, "labelPadding": 34, "domainWidth": 2,
        "title": "N\u2091\u1d65\u2091\u2099\u209c\u209b/20 MeV", "titleFontSize": 16, "titleAngle": 270, "titleX": -57, "titleY": 1, "titleAlign": "right", "titleBaseline": "middle"}}
   }},
  {"data": {"name": "h4"}, "mark": {"type": "area", "interpolate": "step-after", "fill": "#00ffff", "stroke": "#222", "strokeWidth": 1, "clip": true},
   "encoding": {
    "x": {"field": "m", "type": "quantitative", "scale": {"domain": [2.2, 3], "nice": false, "zero": false},
      "axis": {"orient": "bottom", "values": [2.3, 2.4, 2.6, 2.7, 2.8, 2.9], "tickSize": -6, "tickWidth": 1.2, "labels": false, "domain": false,
        "title": "Background Weighted", "titleFontSize": 26, "titleX": 174, "titleY": 68, "titleAlign": "center", "titleBaseline": "alphabetic"}},
    "y": {"field": "cy", "type": "quantitative", "scale": {"domain": [0, 37.7], "nice": false},
      "axis": {"orient": "left", "values": [2, 4, 6, 8, 12, 14, 16, 18, 22, 24, 26, 28, 32, 34, 36], "tickSize": -7, "tickWidth": 1.2, "labels": false, "domain": false, "title": null}}
   }},
  {"data": {"name": "h4"}, "mark": {"type": "area", "interpolate": "step-after", "fill": "#ff00ff", "stroke": "#222", "strokeWidth": 1, "clip": true},
   "encoding": {
    "x": {"field": "m", "type": "quantitative", "scale": {"domain": [2.2, 3], "nice": false, "zero": false},
      "axis": {"orient": "top", "ticks": false, "labels": false, "domainWidth": 2, "title": null}},
    "y": {"field": "mg", "type": "quantitative", "scale": {"domain": [0, 37.7], "nice": false},
      "axis": {"orient": "right", "ticks": false, "labels": false, "domainWidth": 2, "title": null}}
   }},
  {"data": {"name": "h4"}, "mark": {"type": "area", "interpolate": "step-after", "clip": true, "stroke": null, "fill": {"gradient": "linear", "x1": 0, "y1": 0, "x2": 1.0276, "y2": 0.0292, "stops": [
{"offset":0.0298,"color":"transparent"},{"offset":0.0333,"color":"#000"},{"offset":0.0368,"color":"transparent"},{"offset":0.0632,"color":"transparent"},{"offset":0.0667,"color":"#000"},{"offset":0.0702,"color":"transparent"},{"offset":0.0965,"color":"transparent"},{"offset":0.1,"color":"#000"},{"offset":0.1035,"color":"transparent"},{"offset":0.1298,"color":"transparent"},{"offset":0.1333,"color":"#000"},{"offset":0.1368,"color":"transparent"},{"offset":0.1632,"color":"transparent"},{"offset":0.1667,"color":"#000"},{"offset":0.1702,"color":"transparent"},{"offset":0.1965,"color":"transparent"},{"offset":0.2,"color":"#000"},{"offset":0.2035,"color":"transparent"},{"offset":0.2298,"color":"transparent"},{"offset":0.2333,"color":"#000"},{"offset":0.2368,"color":"transparent"},{"offset":0.2632,"color":"transparent"},{"offset":0.2667,"color":"#000"},{"offset":0.2702,"color":"transparent"},{"offset":0.2965,"color":"transparent"},{"offset":0.3,"color":"#000"},{"offset":0.3035,"color":"transparent"},{"offset":0.3298,"color":"transparent"},{"offset":0.3333,"color":"#000"},{"offset":0.3368,"color":"transparent"},{"offset":0.3632,"color":"transparent"},{"offset":0.3667,"color":"#000"},{"offset":0.3702,"color":"transparent"},{"offset":0.3965,"color":"transparent"},{"offset":0.4,"color":"#000"},{"offset":0.4035,"color":"transparent"},{"offset":0.4298,"color":"transparent"},{"offset":0.4333,"color":"#000"},{"offset":0.4368,"color":"transparent"},{"offset":0.4632,"color":"transparent"},{"offset":0.4667,"color":"#000"},{"offset":0.4702,"color":"transparent"},{"offset":0.4965,"color":"transparent"},{"offset":0.5,"color":"#000"},{"offset":0.5035,"color":"transparent"},{"offset":0.5298,"color":"transparent"},{"offset":0.5333,"color":"#000"},{"offset":0.5368,"color":"transparent"},{"offset":0.5632,"color":"transparent"},{"offset":0.5667,"color":"#000"},{"offset":0.5702,"color":"transparent"},{"offset":0.5965,"color":"transparent"},{"offset":0.6,"color":"#000"},{"offset":0.6035,"color":"transparent"},{"offset":0.6298,"color":"transparent"},{"offset":0.6333,"color":"#000"},{"offset":0.6368,"color":"transparent"},{"offset":0.6632,"color":"transparent"},{"offset":0.6667,"color":"#000"},{"offset":0.6702,"color":"transparent"},{"offset":0.6965,"color":"transparent"},{"offset":0.7,"color":"#000"},{"offset":0.7035,"color":"transparent"},{"offset":0.7298,"color":"transparent"},{"offset":0.7333,"color":"#000"},{"offset":0.7368,"color":"transparent"},{"offset":0.7632,"color":"transparent"},{"offset":0.7667,"color":"#000"},{"offset":0.7702,"color":"transparent"},{"offset":0.7965,"color":"transparent"},{"offset":0.8,"color":"#000"},{"offset":0.8035,"color":"transparent"},{"offset":0.8298,"color":"transparent"},{"offset":0.8333,"color":"#000"},{"offset":0.8368,"color":"transparent"},{"offset":0.8632,"color":"transparent"},{"offset":0.8667,"color":"#000"},{"offset":0.8702,"color":"transparent"},{"offset":0.8965,"color":"transparent"},{"offset":0.9,"color":"#000"},{"offset":0.9035,"color":"transparent"},{"offset":0.9298,"color":"transparent"},{"offset":0.9333,"color":"#000"},{"offset":0.9368,"color":"transparent"},{"offset":0.9632,"color":"transparent"},{"offset":0.9667,"color":"#000"},{"offset":0.9702,"color":"transparent"}]}},
   "encoding": {"x": {"field": "m", "type": "quantitative", "scale": {"domain": [2.2, 3], "nice": false, "zero": false}, "axis": null},
    "y": {"field": "ht", "type": "quantitative", "scale": {"domain": [0, 37.7], "nice": false}, "axis": null}}},
  {"data": {"name": "h4"}, "mark": {"type": "area", "interpolate": "step-after", "clip": true, "stroke": "#000", "strokeWidth": 1, "fill": {"gradient": "linear", "x1": 0, "y1": 1, "x2": 1.0276, "y2": 0.9708, "stops": [
{"offset":0.0298,"color":"transparent"},{"offset":0.0333,"color":"#000"},{"offset":0.0368,"color":"transparent"},{"offset":0.0632,"color":"transparent"},{"offset":0.0667,"color":"#000"},{"offset":0.0702,"color":"transparent"},{"offset":0.0965,"color":"transparent"},{"offset":0.1,"color":"#000"},{"offset":0.1035,"color":"transparent"},{"offset":0.1298,"color":"transparent"},{"offset":0.1333,"color":"#000"},{"offset":0.1368,"color":"transparent"},{"offset":0.1632,"color":"transparent"},{"offset":0.1667,"color":"#000"},{"offset":0.1702,"color":"transparent"},{"offset":0.1965,"color":"transparent"},{"offset":0.2,"color":"#000"},{"offset":0.2035,"color":"transparent"},{"offset":0.2298,"color":"transparent"},{"offset":0.2333,"color":"#000"},{"offset":0.2368,"color":"transparent"},{"offset":0.2632,"color":"transparent"},{"offset":0.2667,"color":"#000"},{"offset":0.2702,"color":"transparent"},{"offset":0.2965,"color":"transparent"},{"offset":0.3,"color":"#000"},{"offset":0.3035,"color":"transparent"},{"offset":0.3298,"color":"transparent"},{"offset":0.3333,"color":"#000"},{"offset":0.3368,"color":"transparent"},{"offset":0.3632,"color":"transparent"},{"offset":0.3667,"color":"#000"},{"offset":0.3702,"color":"transparent"},{"offset":0.3965,"color":"transparent"},{"offset":0.4,"color":"#000"},{"offset":0.4035,"color":"transparent"},{"offset":0.4298,"color":"transparent"},{"offset":0.4333,"color":"#000"},{"offset":0.4368,"color":"transparent"},{"offset":0.4632,"color":"transparent"},{"offset":0.4667,"color":"#000"},{"offset":0.4702,"color":"transparent"},{"offset":0.4965,"color":"transparent"},{"offset":0.5,"color":"#000"},{"offset":0.5035,"color":"transparent"},{"offset":0.5298,"color":"transparent"},{"offset":0.5333,"color":"#000"},{"offset":0.5368,"color":"transparent"},{"offset":0.5632,"color":"transparent"},{"offset":0.5667,"color":"#000"},{"offset":0.5702,"color":"transparent"},{"offset":0.5965,"color":"transparent"},{"offset":0.6,"color":"#000"},{"offset":0.6035,"color":"transparent"},{"offset":0.6298,"color":"transparent"},{"offset":0.6333,"color":"#000"},{"offset":0.6368,"color":"transparent"},{"offset":0.6632,"color":"transparent"},{"offset":0.6667,"color":"#000"},{"offset":0.6702,"color":"transparent"},{"offset":0.6965,"color":"transparent"},{"offset":0.7,"color":"#000"},{"offset":0.7035,"color":"transparent"},{"offset":0.7298,"color":"transparent"},{"offset":0.7333,"color":"#000"},{"offset":0.7368,"color":"transparent"},{"offset":0.7632,"color":"transparent"},{"offset":0.7667,"color":"#000"},{"offset":0.7702,"color":"transparent"},{"offset":0.7965,"color":"transparent"},{"offset":0.8,"color":"#000"},{"offset":0.8035,"color":"transparent"},{"offset":0.8298,"color":"transparent"},{"offset":0.8333,"color":"#000"},{"offset":0.8368,"color":"transparent"},{"offset":0.8632,"color":"transparent"},{"offset":0.8667,"color":"#000"},{"offset":0.8702,"color":"transparent"},{"offset":0.8965,"color":"transparent"},{"offset":0.9,"color":"#000"},{"offset":0.9035,"color":"transparent"},{"offset":0.9298,"color":"transparent"},{"offset":0.9333,"color":"#000"},{"offset":0.9368,"color":"transparent"},{"offset":0.9632,"color":"transparent"},{"offset":0.9667,"color":"#000"},{"offset":0.9702,"color":"transparent"}]}},
   "encoding": {"x": {"field": "m", "type": "quantitative", "scale": {"domain": [2.2, 3], "nice": false, "zero": false}, "axis": null},
    "y": {"field": "ht", "type": "quantitative", "scale": {"domain": [0, 37.7], "nice": false}, "axis": null}}},
  {"data": {"name": "h4"}, "mark": {"type": "line", "interpolate": "step-after", "stroke": "#8c8c8c", "strokeWidth": 1.2, "clip": true},
   "encoding": {"x": {"field": "m", "type": "quantitative", "scale": {"domain": [2.2, 3], "nice": false, "zero": false}, "axis": null},
    "y": {"field": "gr", "type": "quantitative", "scale": {"domain": [0, 37.7], "nice": false}, "axis": null}}},
  {"data": {"name": "h4"}, "mark": {"type": "line", "interpolate": "step-after", "stroke": "#000", "strokeWidth": 1.2, "clip": true},
   "encoding": {"x": {"field": "m", "type": "quantitative", "scale": {"domain": [2.2, 3], "nice": false, "zero": false}, "axis": null},
    "y": {"field": "tot", "type": "quantitative", "scale": {"domain": [0, 37.7], "nice": false}, "axis": null}}},
  {"data": {"name": "p4"}, "mark": {"type": "rule", "stroke": "#000", "strokeWidth": 1.6, "clip": true},
   "encoding": {"x": {"field": "m", "type": "quantitative", "scale": {"domain": [2.2, 3], "nice": false, "zero": false}, "axis": null},
    "y": {"field": "lo", "type": "quantitative", "scale": {"domain": [0, 37.7], "nice": false}, "axis": null}, "y2": {"field": "hi"}}},
  {"data": {"name": "p4"}, "mark": {"type": "point", "shape": "circle", "filled": true, "fill": "#000", "size": 64, "opacity": 1, "clip": true},
   "encoding": {"x": {"field": "m", "type": "quantitative", "scale": {"domain": [2.2, 3], "nice": false, "zero": false}, "axis": null},
    "y": {"field": "n", "type": "quantitative", "scale": {"domain": [0, 37.7], "nice": false}, "axis": null}}}
 ]
}
]
}
